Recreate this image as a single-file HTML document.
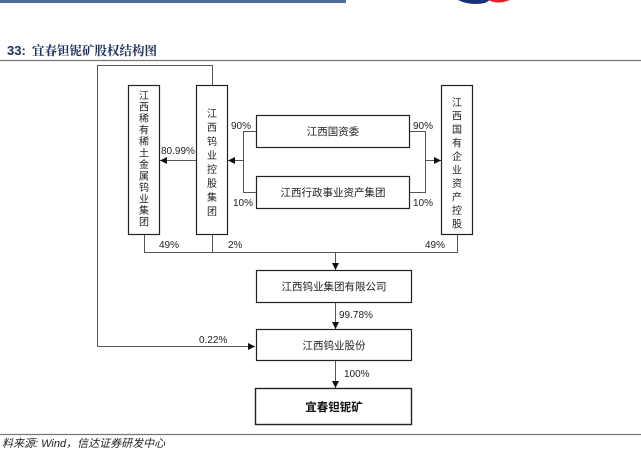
<!DOCTYPE html>
<html><head><meta charset="utf-8"><style>
html,body{margin:0;padding:0;background:#fff;}
svg{display:block;}
text{font-family:"Liberation Sans","Noto Sans CJK SC",sans-serif;fill:#222;}
.c{font-family:"Noto Serif CJK SC","Noto Sans CJK SC",serif;font-size:10.5px;fill:#333;}
.v{font-family:"Noto Serif CJK SC","Noto Sans CJK SC",serif;font-size:10px;fill:#333;}
.p{font-size:10px;}
</style></head><body>
<svg width="641" height="459" viewBox="0 0 641 459" xmlns="http://www.w3.org/2000/svg">
<defs><marker id="a" markerWidth="8" markerHeight="8" refX="7" refY="4" orient="auto" markerUnits="userSpaceOnUse"><path d="M0,0.5 L7,4 L0,7.5Z" fill="#111"/></marker></defs>
<rect x="0" y="0" width="346" height="3" fill="#4e6e99"/>
<path d="M458,0 Q470,6 485,3 L490,0Z" fill="#1a2f7a"/>
<path d="M488,0 Q498,5 510,0Z" fill="#e0202a"/>
<text x="7" y="55" style="font-size:13px;font-weight:bold;fill:#1a2f5a">33:</text>
<text x="32" y="55" style="font-family:'Noto Serif CJK SC',serif;font-size:12.5px;font-weight:bold;fill:#1a2f5a">宜春钽铌矿股权结构图</text>
<line x1="0" y1="60.5" x2="641" y2="60.5" stroke="#777" stroke-width="1.2"/>
<g fill="#fff" stroke="#222" stroke-width="1.2">
<rect x="128.5" y="85.5" width="31" height="149"/>
<rect x="196.5" y="85.5" width="31" height="149"/>
<rect x="441.5" y="85.5" width="31" height="149"/>
<rect x="256.5" y="115.5" width="153" height="32"/>
<rect x="256.5" y="176.5" width="153" height="32"/>
<rect x="256.5" y="270.5" width="155" height="32"/>
<rect x="256.5" y="329.5" width="155" height="31"/>
<rect x="255.5" y="388.5" width="156" height="36" stroke-width="1.4"/>
</g>
<g fill="none" stroke="#555" stroke-width="1">
<polyline points="212.5,85 212.5,65.5 97.5,65.5 97.5,346.5 255,346.5" marker-end="url(#a)"/>
<polyline points="256,131.5 243.5,131.5 243.5,192.5 256,192.5"/>
<line x1="243.5" y1="160.5" x2="228" y2="160.5" marker-end="url(#a)"/>
<polyline points="410,131.5 425.5,131.5 425.5,192.5 410,192.5"/>
<line x1="425.5" y1="160.5" x2="441" y2="160.5" marker-end="url(#a)"/>
<line x1="196" y1="160.5" x2="160" y2="160.5" marker-end="url(#a)"/>
<polyline points="144.5,235 144.5,252.5 457.5,252.5 457.5,235"/>
<line x1="212.5" y1="235" x2="212.5" y2="252.5"/>
<line x1="335.5" y1="252.5" x2="335.5" y2="270" marker-end="url(#a)"/>
<line x1="335.5" y1="303" x2="335.5" y2="329" marker-end="url(#a)"/>
<line x1="335.5" y1="361" x2="335.5" y2="388" marker-end="url(#a)"/>
</g>
<g class="v" text-anchor="middle">
<text x="144" y="99">江</text><text x="144" y="110.5">西</text><text x="144" y="122">稀</text><text x="144" y="133.5">有</text><text x="144" y="145">稀</text><text x="144" y="156.5">土</text><text x="144" y="168">金</text><text x="144" y="179.5">属</text><text x="144" y="191">钨</text><text x="144" y="202.5">业</text><text x="144" y="214">集</text><text x="144" y="225.5">团</text>
</g>
<g class="v" text-anchor="middle">
<text x="212" y="117">江</text><text x="212" y="131">西</text><text x="212" y="145">钨</text><text x="212" y="159">业</text><text x="212" y="173">控</text><text x="212" y="187">股</text><text x="212" y="201">集</text><text x="212" y="215">团</text>
</g>
<g class="v" text-anchor="middle">
<text x="457" y="106">江</text><text x="457" y="119.5">西</text><text x="457" y="133">国</text><text x="457" y="146.5">有</text><text x="457" y="160">企</text><text x="457" y="173.5">业</text><text x="457" y="187">资</text><text x="457" y="200.5">产</text><text x="457" y="214">控</text><text x="457" y="227.5">股</text>
</g>
<g class="c" text-anchor="middle">
<text x="333" y="135">江西国资委</text>
<text x="333" y="196">江西行政事业资产集团</text>
<text x="334" y="290">江西钨业集团有限公司</text>
<text x="334" y="349">江西钨业股份</text>
<text x="334" y="411" style="font-weight:bold;font-size:11.5px;fill:#111">宜春钽铌矿</text>
</g>
<g class="p">
<text x="231" y="129">90%</text>
<text x="413" y="129">90%</text>
<text x="233" y="206">10%</text>
<text x="413" y="206">10%</text>
<text x="161" y="154">80.99%</text>
<text x="159" y="248">49%</text>
<text x="228" y="248">2%</text>
<text x="425" y="248">49%</text>
<text x="339" y="318">99.78%</text>
<text x="199" y="343">0.22%</text>
<text x="344" y="377">100%</text>
</g>
<line x1="0" y1="434.5" x2="641" y2="434.5" stroke="#777" stroke-width="1.2"/>
<text x="2" y="447" style="font-size:11px;font-style:italic;fill:#222">料来源: Wind，信达证券研发中心</text>
</svg>
</body></html>
